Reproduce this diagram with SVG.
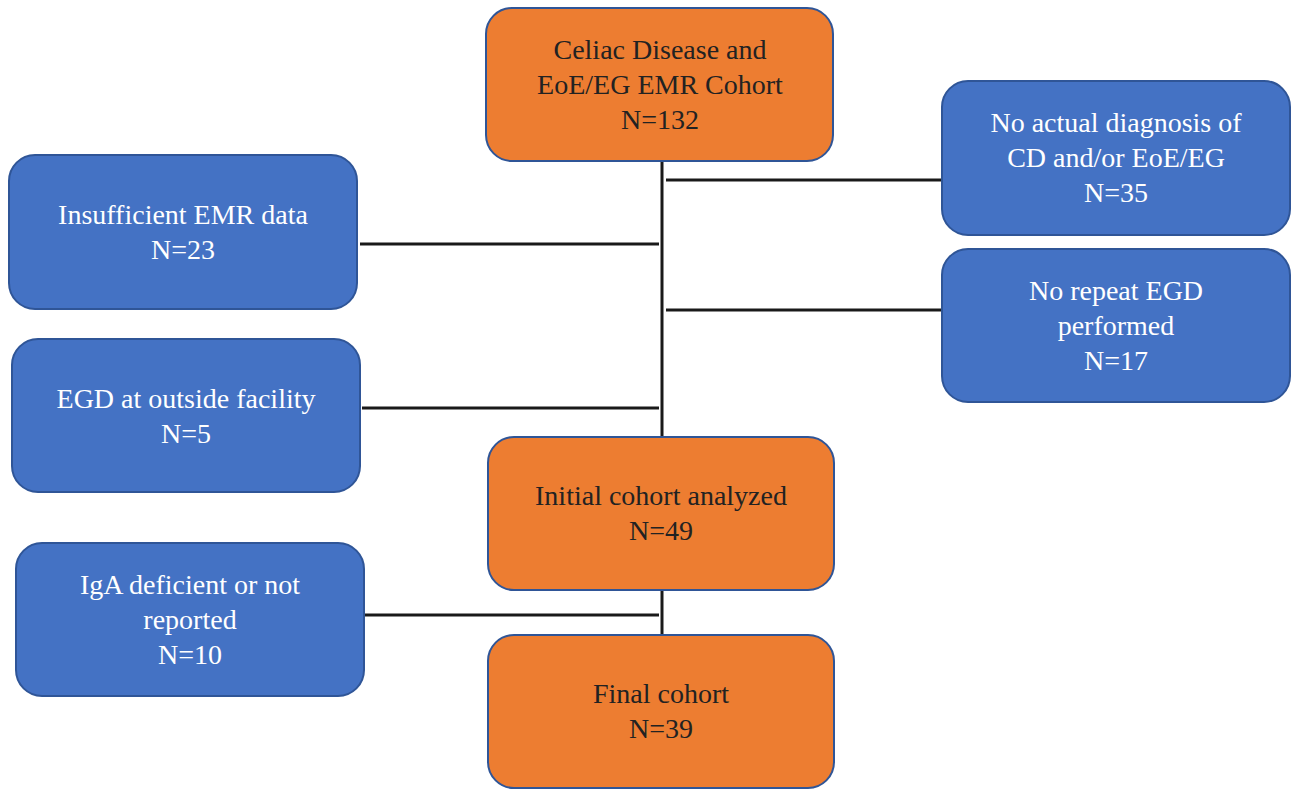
<svg xmlns="http://www.w3.org/2000/svg" width="1299" height="790" viewBox="0 0 1299 790">
<style>
.o{fill:#ED7D31;stroke:#2F5597;stroke-width:2}
.b{fill:#4472C4;stroke:#2F5597;stroke-width:2}
text{font-family:'Liberation Serif',Tinos,'Times New Roman','Noto Serif','DejaVu Serif',serif;font-size:28px;text-anchor:middle}
.to{fill:#222}
.tb{fill:#fff}
.c{stroke:#1a1a1a;stroke-width:3;fill:none}
</style>
<g id="connectors">
<line class="c" x1="662" y1="161" x2="662" y2="437"/>
<line class="c" x1="662" y1="590" x2="662" y2="635"/>
<line class="c" x1="666" y1="180" x2="942" y2="180"/>
<line class="c" x1="666" y1="310" x2="942" y2="310"/>
<line class="c" x1="360" y1="244" x2="659" y2="244"/>
<line class="c" x1="362" y1="408" x2="659" y2="408"/>
<line class="c" x1="365" y1="615" x2="659" y2="615"/>
</g>
<g id="n-start">
<rect class="o" x="486" y="8" width="347" height="153" rx="26"/>
<text class="to" x="660" y="59">Celiac Disease and</text>
<text class="to" x="660" y="94">EoE/EG EMR Cohort</text>
<text class="to" x="660" y="129">N=132</text>
</g>
<g id="n-nodiag">
<rect class="b" x="942" y="81" width="348" height="154" rx="26"/>
<text class="tb" x="1116" y="132">No actual diagnosis of</text>
<text class="tb" x="1116" y="167">CD and/or EoE/EG</text>
<text class="tb" x="1116" y="202">N=35</text>
</g>
<g id="n-norepeat">
<rect class="b" x="942" y="249" width="348" height="153" rx="26"/>
<text class="tb" x="1116" y="300">No repeat EGD</text>
<text class="tb" x="1116" y="335">performed</text>
<text class="tb" x="1116" y="370">N=17</text>
</g>
<g id="n-insufficient">
<rect class="b" x="9" y="155" width="348" height="154" rx="26"/>
<text class="tb" x="183" y="224">Insufficient EMR data</text>
<text class="tb" x="183" y="259">N=23</text>
</g>
<g id="n-outside">
<rect class="b" x="12" y="339" width="348" height="153" rx="26"/>
<text class="tb" x="186" y="408">EGD at outside facility</text>
<text class="tb" x="186" y="443">N=5</text>
</g>
<g id="n-initial">
<rect class="o" x="488" y="437" width="346" height="153" rx="26"/>
<text class="to" x="661" y="505">Initial cohort analyzed</text>
<text class="to" x="661" y="540">N=49</text>
</g>
<g id="n-iga">
<rect class="b" x="16" y="543" width="348" height="153" rx="26"/>
<text class="tb" x="190" y="594">IgA deficient or not</text>
<text class="tb" x="190" y="629">reported</text>
<text class="tb" x="190" y="664">N=10</text>
</g>
<g id="n-final">
<rect class="o" x="488" y="635" width="346" height="153" rx="26"/>
<text class="to" x="661" y="703">Final cohort</text>
<text class="to" x="661" y="738">N=39</text>
</g>
</svg>
